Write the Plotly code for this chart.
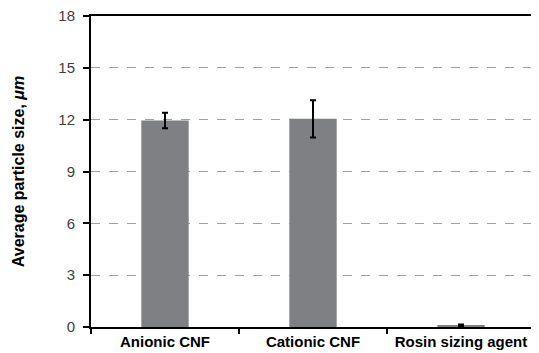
import plotly.graph_objects as go

categories = ["Anionic CNF", "Cationic CNF", "Rosin sizing agent"]
values = [11.95, 12.05, 0.1]
errors = [0.45, 1.08, 0.05]
y_ticks = [0, 3, 6, 9, 12, 15, 18]

xpos = list(range(len(categories)))

fig = go.Figure()
fig.add_trace(go.Bar(
    x=xpos, y=values, width=0.32,
    marker=dict(color="#7f8083", line=dict(width=0)),
    error_y=dict(type="data", array=errors, visible=True, color="black",
                 thickness=2, width=3),
))

# page body has an 8px margin, so the figure is shifted by 8px
fig.update_layout(
    width=531, height=345,
    margin=dict(l=83, r=4, t=8, b=26),
    paper_bgcolor="white", plot_bgcolor="white",
    showlegend=False,
    font=dict(family="Liberation Sans, Arial, sans-serif"),
)
fig.update_xaxes(
    range=[-0.5, 2.5], tickvals=xpos, ticktext=categories,
    ticks="", showgrid=False, zeroline=False, automargin=False,
    ticklabeloverflow="allow",
    showline=True, linecolor="black", linewidth=2, mirror=True,
    tickfont=dict(size=15, color="black", family="Liberation Sans, Arial, sans-serif", weight="bold"),
    minor=dict(tick0=-0.5, dtick=1, ticks="outside", ticklen=5, tickcolor="black", tickwidth=2, showgrid=False),
)
fig.update_yaxes(
    range=[0, 18], tickvals=y_ticks, automargin=False,
    ticklabeloverflow="allow",
    ticks="outside", ticklen=6, tickcolor="black", tickwidth=2,
    ticklabelstandoff=5,
    showgrid=True, gridcolor="#a0a0a0", griddash="dash", gridwidth=1,
    zeroline=False,
    showline=True, linecolor="black", linewidth=2, mirror=True,
    tickfont=dict(size=15, color="#404040"),
    title=dict(text="Average particle size, <i>μm</i>",
               font=dict(size=16, color="black", weight="bold"), standoff=30),
)
fig.write_html("out.html")
